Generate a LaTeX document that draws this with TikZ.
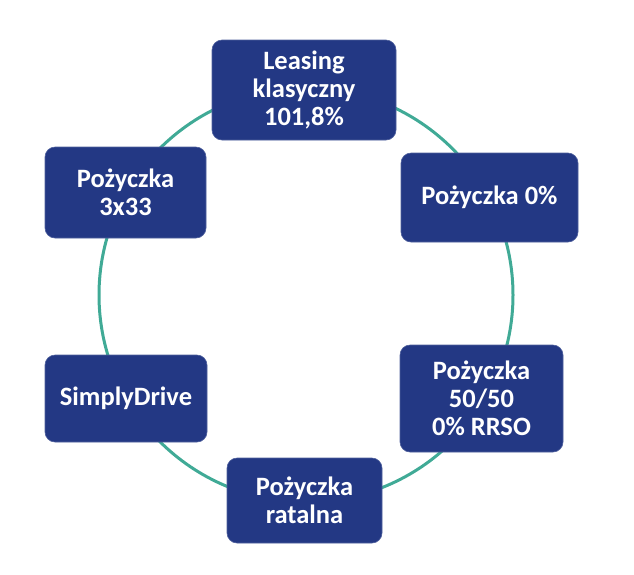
\documentclass[tikz,border=0pt]{standalone}
\usepackage{fontspec}
\setmainfont{Carlito}
\definecolor{navy}{RGB}{35,56,132}
\definecolor{teal}{RGB}{64,170,150}
\begin{document}
\begin{tikzpicture}[x=1pt,y=-1pt,
  box/.style={draw=navy!80!white, line width=0.6pt, fill=navy, rounded corners=10pt, text=white,
    font=\fontsize{26.5}{28}\selectfont\bfseries, align=center, inner sep=0pt},
  ring/.style={draw=teal, line width=3pt}]
\useasboundingbox (0,0) rectangle (634,574);
\coordinate (c) at (306,295);
\draw[ring] (c) circle[radius=207];
\node[box, minimum width=184, minimum height=100] (top) at (304,90) {Leasing\\klasyczny\\101,8\%};
\node[box, minimum width=177, minimum height=89] (p0) at (489.5,197.5) {Pożyczka 0\%};
\node[box, minimum width=163, minimum height=107] (p50) at (481.5,398.5) {Pożyczka\\50/50\\0\% RRSO};
\node[box, minimum width=155, minimum height=85] (rat) at (304.5,500.5) {Pożyczka\\ratalna};
\node[box, minimum width=162, minimum height=87] (sd) at (126,398.5) {SimplyDrive};
\node[box, minimum width=161, minimum height=91] (p33) at (125.5,192.5) {Pożyczka\\3x33};
\end{tikzpicture}
\end{document}
